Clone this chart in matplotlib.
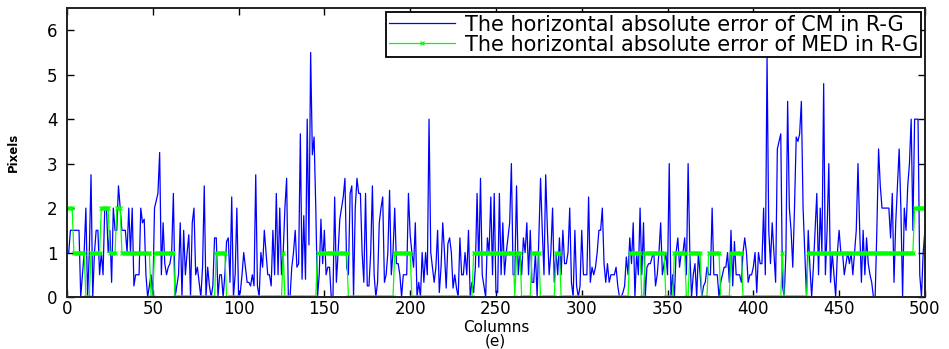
import matplotlib
matplotlib.use('Agg')
import matplotlib.pyplot as plt
import numpy as np

# Ошибка CM по столбцам 1..500 (по 10 в строке)
cm_error = [
    1.0, 1.5, 1.5, 1.5, 1.5, 1.5, 1.5, 0.0, 0.5, 1.0,
    2.0, 0.0, 1.0, 2.75, 0.0, 1.0, 1.5, 1.5, 0.5, 1.0,
    0.5, 2.0, 2.0, 1.0, 1.5, 0.33, 2.0, 1.5, 1.5, 2.5,
    2.0, 1.5, 1.5, 1.5, 1.0, 2.0, 1.0, 2.0, 0.25, 0.5,
    0.5, 0.5, 2.0, 1.67, 1.75, 0.5, 0.0, 0.25, 0.5, 0.0,
    2.0, 2.17, 2.33, 3.25, 0.5, 1.67, 0.75, 0.5, 0.67, 0.75,
    1.0, 2.33, 0.0, 0.25, 0.5, 1.67, 0.0, 1.5, 0.5, 1.0,
    1.4, 0.0, 1.67, 2.0, 0.5, 0.67, 0.33, 0.0, 0.67, 2.5,
    0.0, 0.67, 0.25, 0.0, 0.25, 1.33, 1.33, 0.0, 0.5, 0.5,
    0.0, 0.5, 1.25, 1.33, 0.33, 2.25, 0.0, 0.5, 2.0, 0.0,
    0.1, 0.5, 1.0, 0.67, 0.33, 0.33, 0.25, 0.5, 0.25, 2.75,
    0.25, 0.0, 1.0, 0.67, 1.5, 1.0, 0.5, 0.5, 0.25, 1.5,
    0.5, 2.33, 0.5, 2.0, 0.5, 1.0, 2.0, 2.67, 0.0, 0.0,
    0.67, 1.0, 1.5, 0.67, 0.75, 3.67, 0.4, 1.83, 0.4, 4.0,
    1.17, 5.5, 3.2, 3.6, 2.0, 0.0, 0.5, 1.75, 0.75, 1.5,
    0.5, 0.67, 0.67, 0.0, 0.0, 2.25, 0.33, 1.0, 1.75, 2.0,
    2.25, 2.67, 0.67, 0.5, 2.33, 2.5, 0.0, 2.0, 2.67, 2.33,
    2.33, 1.0, 0.33, 2.33, 0.25, 0.25, 1.0, 2.5, 0.5, 0.0,
    0.33, 1.67, 2.0, 2.25, 0.33, 0.5, 1.0, 2.4, 0.5, 1.0,
    2.0, 0.75, 0.75, 0.5, 0.0, 0.5, 0.5, 0.5, 2.33, 1.4,
    1.0, 0.67, 1.67, 0.0, 0.33, 0.0, 1.0, 0.33, 1.0, 0.5,
    4.0, 1.0, 0.67, 0.33, 0.67, 1.5, 0.1, 0.67, 1.67, 1.0,
    0.2, 1.2, 1.33, 1.0, 0.2, 0.5, 0.2, 0.0, 1.33, 0.5,
    0.5, 1.0, 0.5, 1.5, 0.0, 0.33, 0.1, 0.67, 2.33, 0.67,
    2.67, 0.5, 0.25, 0.0, 1.33, 1.0, 2.25, 0.5, 2.33, 0.1,
    0.1, 2.33, 0.5, 1.67, 0.5, 1.0, 1.33, 1.67, 3.0, 0.5,
    0.5, 2.5, 0.5, 1.0, 0.5, 1.33, 1.0, 1.67, 0.5, 1.5,
    0.33, 0.33, 1.0, 0.0, 1.33, 2.67, 1.5, 0.5, 2.75, 1.5,
    0.5, 1.0, 2.0, 0.33, 1.0, 0.5, 1.33, 0.5, 1.5, 0.75,
    0.75, 1.0, 2.0, 0.33, 0.0, 1.5, 0.25, 0.0, 0.25, 1.5,
    0.5, 0.5, 0.5, 2.25, 0.33, 0.67, 0.5, 0.67, 1.0, 1.5,
    1.5, 2.0, 0.75, 0.33, 0.75, 0.33, 0.5, 0.5, 0.5, 0.67,
    0.25, 0.0, 0.0, 0.1, 0.25, 0.9, 0.5, 1.33, 0.75, 1.67,
    0.0, 1.0, 0.5, 2.0, 0.5, 1.67, 0.0, 0.67, 0.75, 0.75,
    0.9, 1.0, 0.25, 0.5, 1.0, 1.67, 0.5, 0.75, 1.0, 0.5,
    3.0, 0.0, 0.5, 0.0, 1.0, 1.33, 0.67, 1.0, 1.0, 1.33,
    0.5, 3.0, 1.0, 0.0, 0.5, 0.75, 0.0, 1.0, 0.5, 0.0,
    0.25, 0.33, 0.67, 0.5, 0.5, 2.0, 0.5, 0.5, 0.5, 0.0,
    0.33, 0.5, 0.67, 0.67, 1.0, 0.33, 1.5, 0.25, 1.25, 0.5,
    0.5, 0.5, 0.33, 1.0, 1.33, 1.0, 0.33, 0.5, 0.5, 0.67,
    1.0, 0.1, 1.0, 0.75, 0.75, 2.0, 0.5, 5.4, 1.5, 0.75,
    1.67, 1.0, 0.33, 3.33, 3.5, 3.67, 0.25, 0.0, 1.0, 4.4,
    2.0, 1.5, 0.67, 2.0, 3.6, 3.5, 3.67, 4.4, 2.0, 1.0,
    0.0, 1.5, 0.67, 0.0, 0.67, 1.5, 2.33, 0.5, 2.0, 1.0,
    4.8, 0.5, 1.5, 3.0, 0.33, 1.0, 0.5, 0.0, 1.0, 1.5,
    1.0, 1.0, 0.5, 0.75, 1.0, 0.75, 1.0, 0.5, 1.0, 1.5,
    3.0, 1.5, 0.33, 1.5, 0.5, 1.33, 0.75, 0.5, 0.33, 0.0,
    0.0, 1.5, 3.33, 2.5, 2.0, 2.0, 2.0, 2.0, 2.0, 1.33,
    2.33, 0.33, 1.67, 2.5, 3.33, 2.0, 0.0, 2.0, 1.5, 2.5,
    3.0, 4.0, 1.5, 4.0, 4.0, 4.0, 0.5, 0.0, 1.0, 1.5,
]

# Ошибка MED: уровни и длины участков (столбцы 1..500)
med_levels = [2, 1, 0, 1, 2, 1, 2, 1, 0, 1, 0, 1, 0, 1, 0, 1, 0, 1,
              0, 1, 0, 1, 0, 1, 0, 1, 0, 1, 0, 1, 0, 1, 0, 1, 0, 1,
              0, 1, 0, 1, 0, 1, 2]
med_runs = [3, 7, 3, 6, 5, 4, 3, 17, 2, 12, 24, 6, 33, 1, 19, 18, 27, 10,
            36, 24, 1, 3, 6, 5, 9, 3, 40, 7, 2, 12, 5, 7, 2, 7, 4, 7,
            6, 7, 23, 1, 14, 62, 7]

med_error = np.repeat(med_levels, med_runs)
columns = np.arange(1, len(cm_error) + 1)
med_cols = np.arange(1, len(med_error) + 1)

fig = plt.figure(figsize=(9.49, 3.49), dpi=100)
ax = fig.add_axes([0.0706, 0.149, 0.904, 0.828])

ax.plot(columns, cm_error, color='#0000FF', lw=0.9,
        label='The horizontal absolute error of CM in R-G')
ax.plot(med_cols, med_error, color='#00FF00', lw=0.9, marker='x', ms=3.5,
        mew=0.9, label='The horizontal absolute error of MED in R-G')

ax.set_xlim(0, 500)
ax.set_ylim(0, 6.5)
ax.set_xticks(np.arange(0, 501, 50))
ax.set_yticks(np.arange(0, 7, 1))
ax.tick_params(direction='in', top=True, right=True, length=5, width=1,
               labelsize=12)
ax.tick_params(axis='x', pad=2)
ax.tick_params(axis='y', pad=7)
for s in ax.spines.values():
    s.set_linewidth(1.4)
    s.set_color('#202020')

# подписи под осью
fig.text(0.523, 0.063, 'Columns', fontsize=11, ha='center', va='center')
fig.text(0.522, 0.022, '(e)', fontsize=11, ha='center', va='center')
ax.set_ylabel('Pixels', fontsize=8.5, fontweight='bold')
ax.yaxis.set_label_coords(-0.055, 0.5)

leg = ax.legend(loc='upper right', fontsize=15, frameon=True, fancybox=False,
                handlelength=3.2, borderaxespad=0.2, borderpad=0.12,
                labelspacing=0.0, handletextpad=0.45, framealpha=1)
leg.get_frame().set_edgecolor('black')
leg.get_frame().set_linewidth(1.3)

fig.savefig('out.png', dpi=100)
